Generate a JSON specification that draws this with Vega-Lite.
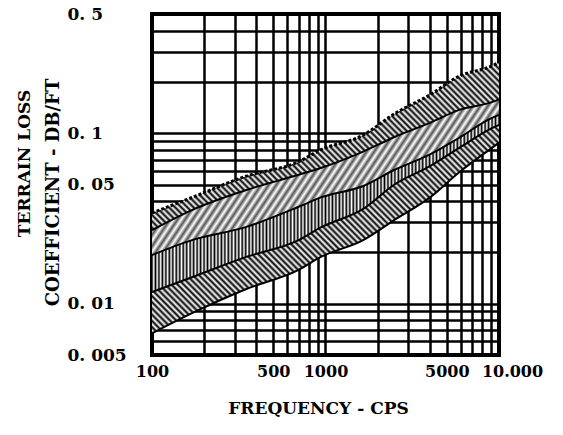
{
"$schema": "https://vega.github.io/schema/vega-lite/v6.json",
"width": 347, "height": 341,
"autosize": {"type": "none"},
"padding": {"left": 152, "top": 14, "right": 64, "bottom": 80},
"background": "white",
"title": {"text": "TERRAIN LOSS", "orient": "left", "anchor": "middle", "frame": "group", "offset": 10, "dx": 21, "font": "DejaVu Serif", "fontWeight": "bold", "fontSize": 17, "color": "#000"},
"config": {"view": {"stroke": "#000", "strokeWidth": 4}, "font": "DejaVu Serif"},
"data": {"values": [
{"freq":100,"U":0.034,"B3":0.027,"B2":0.0193,"B1":0.0117,"L":0.0067},
{"freq":170,"U":0.042,"B3":0.0354,"B2":0.0236,"B1":0.0143,"L":0.0088},
{"freq":350,"U":0.056,"B3":0.0464,"B2":0.0282,"B1":0.0188,"L":0.0122},
{"freq":700,"U":0.068,"B3":0.057,"B2":0.037,"B1":0.0236,"L":0.0158},
{"freq":940,"U":0.08,"B3":0.0625,"B2":0.042,"B1":0.028,"L":0.0188},
{"freq":1650,"U":0.0975,"B3":0.078,"B2":0.049,"B1":0.036,"L":0.0236},
{"freq":2500,"U":0.13,"B3":0.095,"B2":0.061,"B1":0.05,"L":0.031},
{"freq":4000,"U":0.168,"B3":0.115,"B2":0.075,"B1":0.064,"L":0.042},
{"freq":5900,"U":0.216,"B3":0.137,"B2":0.094,"B1":0.082,"L":0.059},
{"freq":9100,"U":0.248,"B3":0.152,"B2":0.123,"B1":0.107,"L":0.082},
{"freq":10000,"U":0.26,"B3":0.158,"B2":0.128,"B1":0.112,"L":0.088}
]},
"layer": [
{
"mark": {"type": "area", "interpolate": "monotone", "clip": true,
"color": {"gradient": "linear", "x1": 0, "y1": 1, "x2": 1.111, "y2": 0.145, "stops": [
{"offset":0,"color":"#000"},{"offset":0.005,"color":"#fff"},{"offset":0.01,"color":"#000"},{"offset":0.015,"color":"#fff"},{"offset":0.02,"color":"#000"},{"offset":0.025,"color":"#fff"},{"offset":0.03,"color":"#000"},{"offset":0.035,"color":"#fff"},{"offset":0.04,"color":"#000"},{"offset":0.045,"color":"#fff"},{"offset":0.05,"color":"#000"},{"offset":0.055,"color":"#fff"},{"offset":0.06,"color":"#000"},{"offset":0.065,"color":"#fff"},{"offset":0.07,"color":"#000"},{"offset":0.075,"color":"#fff"},{"offset":0.08,"color":"#000"},{"offset":0.085,"color":"#fff"},{"offset":0.09,"color":"#000"},{"offset":0.095,"color":"#fff"},
{"offset":0.1,"color":"#000"},{"offset":0.105,"color":"#fff"},{"offset":0.11,"color":"#000"},{"offset":0.115,"color":"#fff"},{"offset":0.12,"color":"#000"},{"offset":0.125,"color":"#fff"},{"offset":0.13,"color":"#000"},{"offset":0.135,"color":"#fff"},{"offset":0.14,"color":"#000"},{"offset":0.145,"color":"#fff"},{"offset":0.15,"color":"#000"},{"offset":0.155,"color":"#fff"},{"offset":0.16,"color":"#000"},{"offset":0.165,"color":"#fff"},{"offset":0.17,"color":"#000"},{"offset":0.175,"color":"#fff"},{"offset":0.18,"color":"#000"},{"offset":0.185,"color":"#fff"},{"offset":0.19,"color":"#000"},{"offset":0.195,"color":"#fff"},
{"offset":0.2,"color":"#000"},{"offset":0.205,"color":"#fff"},{"offset":0.21,"color":"#000"},{"offset":0.215,"color":"#fff"},{"offset":0.22,"color":"#000"},{"offset":0.225,"color":"#fff"},{"offset":0.23,"color":"#000"},{"offset":0.235,"color":"#fff"},{"offset":0.24,"color":"#000"},{"offset":0.245,"color":"#fff"},{"offset":0.25,"color":"#000"},{"offset":0.255,"color":"#fff"},{"offset":0.26,"color":"#000"},{"offset":0.265,"color":"#fff"},{"offset":0.27,"color":"#000"},{"offset":0.275,"color":"#fff"},{"offset":0.28,"color":"#000"},{"offset":0.285,"color":"#fff"},{"offset":0.29,"color":"#000"},{"offset":0.295,"color":"#fff"},
{"offset":0.3,"color":"#000"},{"offset":0.305,"color":"#fff"},{"offset":0.31,"color":"#000"},{"offset":0.315,"color":"#fff"},{"offset":0.32,"color":"#000"},{"offset":0.325,"color":"#fff"},{"offset":0.33,"color":"#000"},{"offset":0.335,"color":"#fff"},{"offset":0.34,"color":"#000"},{"offset":0.345,"color":"#fff"},{"offset":0.35,"color":"#000"},{"offset":0.355,"color":"#fff"},{"offset":0.36,"color":"#000"},{"offset":0.365,"color":"#fff"},{"offset":0.37,"color":"#000"},{"offset":0.375,"color":"#fff"},{"offset":0.38,"color":"#000"},{"offset":0.385,"color":"#fff"},{"offset":0.39,"color":"#000"},{"offset":0.395,"color":"#fff"},
{"offset":0.4,"color":"#000"},{"offset":0.405,"color":"#fff"},{"offset":0.41,"color":"#000"},{"offset":0.415,"color":"#fff"},{"offset":0.42,"color":"#000"},{"offset":0.425,"color":"#fff"},{"offset":0.43,"color":"#000"},{"offset":0.435,"color":"#fff"},{"offset":0.44,"color":"#000"},{"offset":0.445,"color":"#fff"},{"offset":0.45,"color":"#000"},{"offset":0.455,"color":"#fff"},{"offset":0.46,"color":"#000"},{"offset":0.465,"color":"#fff"},{"offset":0.47,"color":"#000"},{"offset":0.475,"color":"#fff"},{"offset":0.48,"color":"#000"},{"offset":0.485,"color":"#fff"},{"offset":0.49,"color":"#000"},{"offset":0.495,"color":"#fff"},
{"offset":0.5,"color":"#000"},{"offset":0.505,"color":"#fff"},{"offset":0.51,"color":"#000"},{"offset":0.515,"color":"#fff"},{"offset":0.52,"color":"#000"},{"offset":0.525,"color":"#fff"},{"offset":0.53,"color":"#000"},{"offset":0.535,"color":"#fff"},{"offset":0.54,"color":"#000"},{"offset":0.545,"color":"#fff"},{"offset":0.55,"color":"#000"},{"offset":0.555,"color":"#fff"},{"offset":0.56,"color":"#000"},{"offset":0.565,"color":"#fff"},{"offset":0.57,"color":"#000"},{"offset":0.575,"color":"#fff"},{"offset":0.58,"color":"#000"},{"offset":0.585,"color":"#fff"},{"offset":0.59,"color":"#000"},{"offset":0.595,"color":"#fff"},
{"offset":0.6,"color":"#000"},{"offset":0.605,"color":"#fff"},{"offset":0.61,"color":"#000"},{"offset":0.615,"color":"#fff"},{"offset":0.62,"color":"#000"},{"offset":0.625,"color":"#fff"},{"offset":0.63,"color":"#000"},{"offset":0.635,"color":"#fff"},{"offset":0.64,"color":"#000"},{"offset":0.645,"color":"#fff"},{"offset":0.65,"color":"#000"},{"offset":0.655,"color":"#fff"},{"offset":0.66,"color":"#000"},{"offset":0.665,"color":"#fff"},{"offset":0.67,"color":"#000"},{"offset":0.675,"color":"#fff"},{"offset":0.68,"color":"#000"},{"offset":0.685,"color":"#fff"},{"offset":0.69,"color":"#000"},{"offset":0.695,"color":"#fff"},
{"offset":0.7,"color":"#000"},{"offset":0.705,"color":"#fff"},{"offset":0.71,"color":"#000"},{"offset":0.715,"color":"#fff"},{"offset":0.72,"color":"#000"},{"offset":0.725,"color":"#fff"},{"offset":0.73,"color":"#000"},{"offset":0.735,"color":"#fff"},{"offset":0.74,"color":"#000"},{"offset":0.745,"color":"#fff"},{"offset":0.75,"color":"#000"},{"offset":0.755,"color":"#fff"},{"offset":0.76,"color":"#000"},{"offset":0.765,"color":"#fff"},{"offset":0.77,"color":"#000"},{"offset":0.775,"color":"#fff"},{"offset":0.78,"color":"#000"},{"offset":0.785,"color":"#fff"},{"offset":0.79,"color":"#000"},{"offset":0.795,"color":"#fff"},
{"offset":0.8,"color":"#000"},{"offset":0.805,"color":"#fff"},{"offset":0.81,"color":"#000"},{"offset":0.815,"color":"#fff"},{"offset":0.82,"color":"#000"},{"offset":0.825,"color":"#fff"},{"offset":0.83,"color":"#000"},{"offset":0.835,"color":"#fff"},{"offset":0.84,"color":"#000"},{"offset":0.845,"color":"#fff"},{"offset":0.85,"color":"#000"},{"offset":0.855,"color":"#fff"},{"offset":0.86,"color":"#000"},{"offset":0.865,"color":"#fff"},{"offset":0.87,"color":"#000"},{"offset":0.875,"color":"#fff"},{"offset":0.88,"color":"#000"},{"offset":0.885,"color":"#fff"},{"offset":0.89,"color":"#000"},{"offset":0.895,"color":"#fff"},
{"offset":0.9,"color":"#000"},{"offset":0.905,"color":"#fff"},{"offset":0.91,"color":"#000"},{"offset":0.915,"color":"#fff"},{"offset":0.92,"color":"#000"},{"offset":0.925,"color":"#fff"},{"offset":0.93,"color":"#000"},{"offset":0.935,"color":"#fff"},{"offset":0.94,"color":"#000"},{"offset":0.945,"color":"#fff"},{"offset":0.95,"color":"#000"},{"offset":0.955,"color":"#fff"},{"offset":0.96,"color":"#000"},{"offset":0.965,"color":"#fff"},{"offset":0.97,"color":"#000"},{"offset":0.975,"color":"#fff"},{"offset":0.98,"color":"#000"},{"offset":0.985,"color":"#fff"},{"offset":0.99,"color":"#000"},{"offset":0.995,"color":"#fff"},
{"offset":1,"color":"#000"}
]}},
"encoding": {
"x": {"field": "freq", "type": "quantitative", "scale": {"type": "log", "domain": [100, 10000]},
"axis": {"values": [100,200,300,400,500,600,700,800,900,1000,2000,3000,4000,5000,6000,7000,8000,9000,10000],
"labelExpr": "datum.value == 10000 ? '10.000' : (datum.value == 100 || datum.value == 500 || datum.value == 1000 || datum.value == 5000) ? toString(datum.value) : ''",
"labelOffset": {"condition": {"test": "datum.value == 10000", "value": 13}, "value": 0},
"labelFlush": false, "labelOverlap": false, "labelFont": "DejaVu Serif", "labelFontWeight": "bold", "labelFontSize": 16, "labelColor": "#000", "labelPadding": 8, "labelBaseline": "top",
"ticks": false, "tickSize": 0, "domain": false, "grid": true, "gridColor": "#000", "gridWidth": 2.5, "gridOpacity": 1,
"title": "FREQUENCY - CPS", "titleFont": "DejaVu Serif", "titleFontWeight": "bold", "titleFontSize": 17, "titleColor": "#000",
"titleX": 166, "titleY": 53, "titleBaseline": "middle", "titleAlign": "center"}},
"y": {"field": "U", "type": "quantitative", "scale": {"type": "log", "domain": [0.005, 0.5]},
"axis": {"values": [0.005,0.006,0.007,0.008,0.009,0.01,0.02,0.03,0.04,0.05,0.06,0.07,0.08,0.09,0.1,0.2,0.3,0.4,0.5],
"labelExpr": "datum.value == 0.005 ? '0. 005' : datum.value == 0.01 ? '0. 01' : datum.value == 0.05 ? '0. 05' : datum.value == 0.1 ? '0. 1' : datum.value == 0.5 ? '0. 5' : ''",
"labelFlush": false, "labelOverlap": false, "labelFont": "DejaVu Serif", "labelFontWeight": "bold", "labelFontSize": 17, "labelColor": "#000", "labelPadding": 85, "labelAlign": "left", "labelBaseline": "middle",
"ticks": false, "tickSize": 0, "domain": false, "grid": true, "gridColor": "#000", "gridWidth": 2.5, "gridOpacity": 1,
"title": "COEFFICIENT - DB/FT",
"titleFont": "DejaVu Serif", "titleFontWeight": "bold", "titleFontSize": 18, "titleColor": "#000",
"titleX": -99, "titleY": 178, "titleBaseline": "middle", "titleAlign": "center", "titleAngle": -90}},
"y2": {"field": "L"}
}
},
{
"mark": {"type": "area", "interpolate": "monotone", "clip": true,
"color": {"gradient": "linear", "x1": 0, "y1": 0, "x2": 1, "y2": 0.3, "stops": [
{"offset":0,"color":"#555"},{"offset":0.01,"color":"#fff"},{"offset":0.02,"color":"#555"},{"offset":0.03,"color":"#fff"},{"offset":0.04,"color":"#555"},{"offset":0.05,"color":"#fff"},{"offset":0.06,"color":"#555"},{"offset":0.07,"color":"#fff"},{"offset":0.08,"color":"#555"},{"offset":0.09,"color":"#fff"},
{"offset":0.1,"color":"#555"},{"offset":0.11,"color":"#fff"},{"offset":0.12,"color":"#555"},{"offset":0.13,"color":"#fff"},{"offset":0.14,"color":"#555"},{"offset":0.15,"color":"#fff"},{"offset":0.16,"color":"#555"},{"offset":0.17,"color":"#fff"},{"offset":0.18,"color":"#555"},{"offset":0.19,"color":"#fff"},
{"offset":0.2,"color":"#555"},{"offset":0.21,"color":"#fff"},{"offset":0.22,"color":"#555"},{"offset":0.23,"color":"#fff"},{"offset":0.24,"color":"#555"},{"offset":0.25,"color":"#fff"},{"offset":0.26,"color":"#555"},{"offset":0.27,"color":"#fff"},{"offset":0.28,"color":"#555"},{"offset":0.29,"color":"#fff"},
{"offset":0.3,"color":"#555"},{"offset":0.31,"color":"#fff"},{"offset":0.32,"color":"#555"},{"offset":0.33,"color":"#fff"},{"offset":0.34,"color":"#555"},{"offset":0.35,"color":"#fff"},{"offset":0.36,"color":"#555"},{"offset":0.37,"color":"#fff"},{"offset":0.38,"color":"#555"},{"offset":0.39,"color":"#fff"},
{"offset":0.4,"color":"#555"},{"offset":0.41,"color":"#fff"},{"offset":0.42,"color":"#555"},{"offset":0.43,"color":"#fff"},{"offset":0.44,"color":"#555"},{"offset":0.45,"color":"#fff"},{"offset":0.46,"color":"#555"},{"offset":0.47,"color":"#fff"},{"offset":0.48,"color":"#555"},{"offset":0.49,"color":"#fff"},
{"offset":0.5,"color":"#555"},{"offset":0.51,"color":"#fff"},{"offset":0.52,"color":"#555"},{"offset":0.53,"color":"#fff"},{"offset":0.54,"color":"#555"},{"offset":0.55,"color":"#fff"},{"offset":0.56,"color":"#555"},{"offset":0.57,"color":"#fff"},{"offset":0.58,"color":"#555"},{"offset":0.59,"color":"#fff"},
{"offset":0.6,"color":"#555"},{"offset":0.61,"color":"#fff"},{"offset":0.62,"color":"#555"},{"offset":0.63,"color":"#fff"},{"offset":0.64,"color":"#555"},{"offset":0.65,"color":"#fff"},{"offset":0.66,"color":"#555"},{"offset":0.67,"color":"#fff"},{"offset":0.68,"color":"#555"},{"offset":0.69,"color":"#fff"},
{"offset":0.7,"color":"#555"},{"offset":0.71,"color":"#fff"},{"offset":0.72,"color":"#555"},{"offset":0.73,"color":"#fff"},{"offset":0.74,"color":"#555"},{"offset":0.75,"color":"#fff"},{"offset":0.76,"color":"#555"},{"offset":0.77,"color":"#fff"},{"offset":0.78,"color":"#555"},{"offset":0.79,"color":"#fff"},
{"offset":0.8,"color":"#555"},{"offset":0.81,"color":"#fff"},{"offset":0.82,"color":"#555"},{"offset":0.83,"color":"#fff"},{"offset":0.84,"color":"#555"},{"offset":0.85,"color":"#fff"},{"offset":0.86,"color":"#555"},{"offset":0.87,"color":"#fff"},{"offset":0.88,"color":"#555"},{"offset":0.89,"color":"#fff"},
{"offset":0.9,"color":"#555"},{"offset":0.91,"color":"#fff"},{"offset":0.92,"color":"#555"},{"offset":0.93,"color":"#fff"},{"offset":0.94,"color":"#555"},{"offset":0.95,"color":"#fff"},{"offset":0.96,"color":"#555"},{"offset":0.97,"color":"#fff"},{"offset":0.98,"color":"#555"},{"offset":0.99,"color":"#fff"},
{"offset":1,"color":"#555"}
]}},
"encoding": {
"x": {"field": "freq", "type": "quantitative", "scale": {"type": "log", "domain": [100, 10000]}},
"y": {"field": "B3", "type": "quantitative", "scale": {"type": "log", "domain": [0.005, 0.5]}},
"y2": {"field": "B2"}
}
},
{
"mark": {"type": "area", "interpolate": "monotone", "clip": true,
"color": {"gradient": "linear", "x1": 0, "y1": 0, "x2": 1, "y2": 0, "stops": [
{"offset":0,"color":"#000"},{"offset":0.005,"color":"#fff"},{"offset":0.01,"color":"#000"},{"offset":0.015,"color":"#fff"},{"offset":0.02,"color":"#000"},{"offset":0.025,"color":"#fff"},{"offset":0.03,"color":"#000"},{"offset":0.035,"color":"#fff"},{"offset":0.04,"color":"#000"},{"offset":0.045,"color":"#fff"},{"offset":0.05,"color":"#000"},{"offset":0.055,"color":"#fff"},{"offset":0.06,"color":"#000"},{"offset":0.065,"color":"#fff"},{"offset":0.07,"color":"#000"},{"offset":0.075,"color":"#fff"},{"offset":0.08,"color":"#000"},{"offset":0.085,"color":"#fff"},{"offset":0.09,"color":"#000"},{"offset":0.095,"color":"#fff"},
{"offset":0.1,"color":"#000"},{"offset":0.105,"color":"#fff"},{"offset":0.11,"color":"#000"},{"offset":0.115,"color":"#fff"},{"offset":0.12,"color":"#000"},{"offset":0.125,"color":"#fff"},{"offset":0.13,"color":"#000"},{"offset":0.135,"color":"#fff"},{"offset":0.14,"color":"#000"},{"offset":0.145,"color":"#fff"},{"offset":0.15,"color":"#000"},{"offset":0.155,"color":"#fff"},{"offset":0.16,"color":"#000"},{"offset":0.165,"color":"#fff"},{"offset":0.17,"color":"#000"},{"offset":0.175,"color":"#fff"},{"offset":0.18,"color":"#000"},{"offset":0.185,"color":"#fff"},{"offset":0.19,"color":"#000"},{"offset":0.195,"color":"#fff"},
{"offset":0.2,"color":"#000"},{"offset":0.205,"color":"#fff"},{"offset":0.21,"color":"#000"},{"offset":0.215,"color":"#fff"},{"offset":0.22,"color":"#000"},{"offset":0.225,"color":"#fff"},{"offset":0.23,"color":"#000"},{"offset":0.235,"color":"#fff"},{"offset":0.24,"color":"#000"},{"offset":0.245,"color":"#fff"},{"offset":0.25,"color":"#000"},{"offset":0.255,"color":"#fff"},{"offset":0.26,"color":"#000"},{"offset":0.265,"color":"#fff"},{"offset":0.27,"color":"#000"},{"offset":0.275,"color":"#fff"},{"offset":0.28,"color":"#000"},{"offset":0.285,"color":"#fff"},{"offset":0.29,"color":"#000"},{"offset":0.295,"color":"#fff"},
{"offset":0.3,"color":"#000"},{"offset":0.305,"color":"#fff"},{"offset":0.31,"color":"#000"},{"offset":0.315,"color":"#fff"},{"offset":0.32,"color":"#000"},{"offset":0.325,"color":"#fff"},{"offset":0.33,"color":"#000"},{"offset":0.335,"color":"#fff"},{"offset":0.34,"color":"#000"},{"offset":0.345,"color":"#fff"},{"offset":0.35,"color":"#000"},{"offset":0.355,"color":"#fff"},{"offset":0.36,"color":"#000"},{"offset":0.365,"color":"#fff"},{"offset":0.37,"color":"#000"},{"offset":0.375,"color":"#fff"},{"offset":0.38,"color":"#000"},{"offset":0.385,"color":"#fff"},{"offset":0.39,"color":"#000"},{"offset":0.395,"color":"#fff"},
{"offset":0.4,"color":"#000"},{"offset":0.405,"color":"#fff"},{"offset":0.41,"color":"#000"},{"offset":0.415,"color":"#fff"},{"offset":0.42,"color":"#000"},{"offset":0.425,"color":"#fff"},{"offset":0.43,"color":"#000"},{"offset":0.435,"color":"#fff"},{"offset":0.44,"color":"#000"},{"offset":0.445,"color":"#fff"},{"offset":0.45,"color":"#000"},{"offset":0.455,"color":"#fff"},{"offset":0.46,"color":"#000"},{"offset":0.465,"color":"#fff"},{"offset":0.47,"color":"#000"},{"offset":0.475,"color":"#fff"},{"offset":0.48,"color":"#000"},{"offset":0.485,"color":"#fff"},{"offset":0.49,"color":"#000"},{"offset":0.495,"color":"#fff"},
{"offset":0.5,"color":"#000"},{"offset":0.505,"color":"#fff"},{"offset":0.51,"color":"#000"},{"offset":0.515,"color":"#fff"},{"offset":0.52,"color":"#000"},{"offset":0.525,"color":"#fff"},{"offset":0.53,"color":"#000"},{"offset":0.535,"color":"#fff"},{"offset":0.54,"color":"#000"},{"offset":0.545,"color":"#fff"},{"offset":0.55,"color":"#000"},{"offset":0.555,"color":"#fff"},{"offset":0.56,"color":"#000"},{"offset":0.565,"color":"#fff"},{"offset":0.57,"color":"#000"},{"offset":0.575,"color":"#fff"},{"offset":0.58,"color":"#000"},{"offset":0.585,"color":"#fff"},{"offset":0.59,"color":"#000"},{"offset":0.595,"color":"#fff"},
{"offset":0.6,"color":"#000"},{"offset":0.605,"color":"#fff"},{"offset":0.61,"color":"#000"},{"offset":0.615,"color":"#fff"},{"offset":0.62,"color":"#000"},{"offset":0.625,"color":"#fff"},{"offset":0.63,"color":"#000"},{"offset":0.635,"color":"#fff"},{"offset":0.64,"color":"#000"},{"offset":0.645,"color":"#fff"},{"offset":0.65,"color":"#000"},{"offset":0.655,"color":"#fff"},{"offset":0.66,"color":"#000"},{"offset":0.665,"color":"#fff"},{"offset":0.67,"color":"#000"},{"offset":0.675,"color":"#fff"},{"offset":0.68,"color":"#000"},{"offset":0.685,"color":"#fff"},{"offset":0.69,"color":"#000"},{"offset":0.695,"color":"#fff"},
{"offset":0.7,"color":"#000"},{"offset":0.705,"color":"#fff"},{"offset":0.71,"color":"#000"},{"offset":0.715,"color":"#fff"},{"offset":0.72,"color":"#000"},{"offset":0.725,"color":"#fff"},{"offset":0.73,"color":"#000"},{"offset":0.735,"color":"#fff"},{"offset":0.74,"color":"#000"},{"offset":0.745,"color":"#fff"},{"offset":0.75,"color":"#000"},{"offset":0.755,"color":"#fff"},{"offset":0.76,"color":"#000"},{"offset":0.765,"color":"#fff"},{"offset":0.77,"color":"#000"},{"offset":0.775,"color":"#fff"},{"offset":0.78,"color":"#000"},{"offset":0.785,"color":"#fff"},{"offset":0.79,"color":"#000"},{"offset":0.795,"color":"#fff"},
{"offset":0.8,"color":"#000"},{"offset":0.805,"color":"#fff"},{"offset":0.81,"color":"#000"},{"offset":0.815,"color":"#fff"},{"offset":0.82,"color":"#000"},{"offset":0.825,"color":"#fff"},{"offset":0.83,"color":"#000"},{"offset":0.835,"color":"#fff"},{"offset":0.84,"color":"#000"},{"offset":0.845,"color":"#fff"},{"offset":0.85,"color":"#000"},{"offset":0.855,"color":"#fff"},{"offset":0.86,"color":"#000"},{"offset":0.865,"color":"#fff"},{"offset":0.87,"color":"#000"},{"offset":0.875,"color":"#fff"},{"offset":0.88,"color":"#000"},{"offset":0.885,"color":"#fff"},{"offset":0.89,"color":"#000"},{"offset":0.895,"color":"#fff"},
{"offset":0.9,"color":"#000"},{"offset":0.905,"color":"#fff"},{"offset":0.91,"color":"#000"},{"offset":0.915,"color":"#fff"},{"offset":0.92,"color":"#000"},{"offset":0.925,"color":"#fff"},{"offset":0.93,"color":"#000"},{"offset":0.935,"color":"#fff"},{"offset":0.94,"color":"#000"},{"offset":0.945,"color":"#fff"},{"offset":0.95,"color":"#000"},{"offset":0.955,"color":"#fff"},{"offset":0.96,"color":"#000"},{"offset":0.965,"color":"#fff"},{"offset":0.97,"color":"#000"},{"offset":0.975,"color":"#fff"},{"offset":0.98,"color":"#000"},{"offset":0.985,"color":"#fff"},{"offset":0.99,"color":"#000"},{"offset":0.995,"color":"#fff"},
{"offset":1,"color":"#000"}
]}},
"encoding": {
"x": {"field": "freq", "type": "quantitative", "scale": {"type": "log", "domain": [100, 10000]}},
"y": {"field": "B2", "type": "quantitative", "scale": {"type": "log", "domain": [0.005, 0.5]}},
"y2": {"field": "B1"}
}
},
{
"mark": {"type": "line", "interpolate": "monotone", "clip": true, "color": "#000", "strokeWidth": 3, "strokeDash": [3, 2]},
"encoding": {
"x": {"field": "freq", "type": "quantitative", "scale": {"type": "log", "domain": [100, 10000]}},
"y": {"field": "U", "type": "quantitative", "scale": {"type": "log", "domain": [0.005, 0.5]}}
}
},
{
"transform": [{"fold": ["B3", "B2", "B1", "L"], "as": ["k", "v"]}],
"mark": {"type": "line", "interpolate": "monotone", "clip": true, "color": "#000", "strokeWidth": 2},
"encoding": {
"x": {"field": "freq", "type": "quantitative", "scale": {"type": "log", "domain": [100, 10000]}},
"y": {"field": "v", "type": "quantitative", "scale": {"type": "log", "domain": [0.005, 0.5]}},
"detail": {"field": "k", "type": "nominal"}
}
}
]
}
